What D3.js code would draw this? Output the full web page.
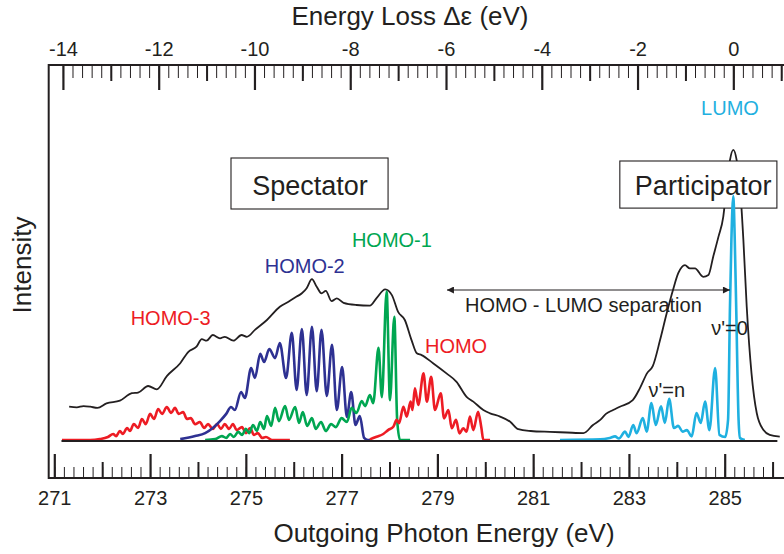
<!DOCTYPE html>
<html><head><meta charset="utf-8">
<script src="https://cdn.jsdelivr.net/npm/d3@7"></script>
<style>
body{margin:0;background:#fff}
svg{display:block}
text{font-family:"Liberation Sans",Arial,Helvetica,sans-serif}
</style>
</head><body>
<svg id="c" width="784" height="554"></svg>
<script>
// ---------- data (photon energy eV, intensity arb. units) ----------
const lossZero = 285.18; // energy of the LUMO (0 eV loss)

const total = [[271.31,11.1],[271.47,10.9],[271.61,11.3],[271.75,11.1],[271.90,10.7],[272.09,12.2],[272.37,13.1],[272.62,15.6],[272.75,15.8],[272.96,18.0],[273.14,16.9],[273.35,21.3],[273.63,25.6],[273.80,29.4],[273.97,31.1],[274.08,33.6],[274.18,33.1],[274.31,35.0],[274.46,33.9],[274.56,34.4],[274.74,33.1],[274.91,35.0],[275.02,34.4],[275.19,36.7],[275.44,40.0],[275.71,44.4],[275.89,46.1],[276.06,47.8],[276.17,48.9],[276.27,50.6],[276.38,53.6],[276.48,51.1],[276.58,48.9],[276.67,49.7],[276.79,46.3],[276.90,47.2],[277.04,45.7],[277.31,45.0],[277.59,44.8],[277.73,47.3],[277.91,50.2],[278.05,48.3],[278.18,42.7],[278.32,40.0],[278.46,33.3],[278.57,28.9],[278.67,28.3],[278.91,25.6],[279.19,22.2],[279.40,19.4],[279.61,14.4],[279.75,12.8],[279.96,10.0],[280.10,8.9],[280.31,7.8],[280.52,6.1],[280.69,3.6],[280.95,3.0],[281.35,2.7],[281.70,2.5],[282.05,2.3],[282.25,5.0],[282.40,6.7],[282.52,8.7],[282.67,10.0],[282.81,11.1],[283.08,13.3],[283.23,17.3],[283.38,22.3],[283.50,24.7],[283.65,33.3],[283.79,42.3],[283.92,50.0],[284.03,55.6],[284.17,58.3],[284.27,57.2],[284.38,57.2],[284.55,54.4],[284.66,55.0],[284.76,61.1],[284.87,67.8],[284.97,74.4],[285.04,84.4],[285.11,93.3],[285.18,96.7],[285.25,93.3],[285.32,84.4],[285.39,66.7],[285.46,44.4],[285.56,22.2],[285.67,8.9],[285.81,3.3],[285.94,1.7],[286.15,1.1]];

const homo3 = [[271.16,0],[271.75,0],[271.95,0.3],[272.12,1.0],[272.23,2.0],[272.29,1.3],[272.37,3.0],[272.43,2.0],[272.52,4.0],[272.58,3.0],[272.66,5.3],[272.75,4.0],[272.83,7.0],[272.91,5.3],[273.00,8.7],[273.08,7.0],[273.17,10.3],[273.25,8.7],[273.35,11.0],[273.44,9.0],[273.52,10.7],[273.60,8.7],[273.69,9.3],[273.77,7.0],[273.85,7.3],[273.94,5.3],[274.04,6.0],[274.13,4.0],[274.21,5.3],[274.31,3.7],[274.40,5.3],[274.48,3.7],[274.56,5.3],[274.65,3.7],[274.73,5.3],[274.81,3.3],[274.92,4.3],[275.00,2.3],[275.09,4.0],[275.17,1.7],[275.25,2.3],[275.34,0.7],[275.42,1.0],[275.55,0],[275.92,0]];

const homo2 = [[273.63,0.3],[273.94,1.3],[274.15,2.3],[274.31,4.0],[274.46,6.3],[274.59,8.7],[274.69,11.0],[274.77,10.0],[274.90,16.0],[274.98,14.0],[275.11,24.0],[275.19,20.7],[275.30,28.7],[275.38,26.0],[275.49,30.3],[275.61,27.3],[275.71,32.3],[275.84,20.7],[275.96,35.7],[276.06,16.7],[276.17,37.0],[276.27,15.0],[276.38,37.7],[276.48,16.3],[276.58,36.7],[276.69,14.7],[276.80,31.7],[276.90,10.0],[277.01,24.3],[277.11,7.7],[277.20,16.0],[277.29,5.0],[277.38,8.0],[277.47,0.7],[277.55,0],[277.63,0]];

const homo1 = [[274.15,0],[274.36,0.3],[274.50,1.3],[274.59,0.7],[274.67,2.0],[274.75,1.0],[274.84,2.7],[274.92,1.7],[275.00,3.7],[275.07,2.3],[275.15,5.0],[275.23,3.0],[275.30,6.0],[275.38,3.7],[275.44,8.0],[275.53,4.7],[275.61,10.7],[275.69,6.3],[275.82,11.3],[275.90,6.7],[276.03,11.0],[276.11,5.7],[276.19,9.3],[276.28,4.7],[276.38,7.3],[276.46,3.7],[276.57,6.0],[276.67,3.0],[276.78,5.3],[276.88,4.3],[277.00,7.3],[277.11,6.0],[277.21,10.7],[277.31,9.0],[277.42,13.0],[277.49,11.3],[277.59,15.0],[277.66,12.3],[277.77,30.7],[277.84,14.3],[277.94,49.5],[278.01,13.3],[278.10,41.1],[278.16,6.7],[278.22,0],[278.43,0]];

const homo = [[277.59,0.2],[277.73,1.1],[277.87,2.0],[277.97,3.3],[278.08,4.4],[278.15,6.7],[278.20,5.6],[278.29,11.1],[278.36,7.8],[278.44,12.8],[278.48,10.0],[278.53,17.2],[278.60,11.7],[278.71,22.2],[278.78,12.8],[278.87,21.1],[278.95,10.0],[279.07,15.6],[279.14,7.2],[279.23,10.0],[279.30,3.9],[279.39,6.7],[279.46,2.2],[279.54,3.9],[279.61,2.8],[279.68,7.8],[279.75,3.3],[279.85,9.4],[279.92,3.9],[279.96,0],[280.10,0]];

const lumo = [[281.56,0],[282.40,0.2],[282.60,0.7],[282.71,1.2],[282.79,0.5],[282.92,2.8],[282.99,1.0],[283.09,5.0],[283.16,2.3],[283.29,7.3],[283.37,2.8],[283.47,12.3],[283.56,5.0],[283.67,11.2],[283.75,5.7],[283.84,13.7],[283.94,4.0],[284.03,4.7],[284.12,2.8],[284.21,3.3],[284.31,1.2],[284.41,9.0],[284.50,5.7],[284.59,12.8],[284.68,3.3],[284.80,24.0],[284.89,1.7],[285.01,1.0],[285.07,6.7],[285.11,44.3],[285.14,66.7],[285.18,81.3],[285.21,66.7],[285.24,44.3],[285.29,6.7],[285.32,0.7],[285.42,0]];

const bottomLabelTicks = [271,273,275,277,279,281,283,285];
const bottomMidTicks = [272,274,276,278,280,282,284,286];
const topLabelTicks = [-14,-12,-10,-8,-6,-4,-2,0];
const topMidTicks = [-13,-11,-9,-7,-5,-3,-1,1];

const curveLabels = [
  {text:"LUMO",   e:285.11, i:108.3, color:"#1fb0e0"},
  {text:"HOMO-1", e:278.05, i:64.3,  color:"#00a651"},
  {text:"HOMO-2", e:276.23, i:55.7,  color:"#2e3192"},
  {text:"HOMO-3", e:273.43, i:38.3,  color:"#ed1c24"},
  {text:"HOMO",   e:279.39, i:29.0,  color:"#ed1c24"},
  {text:"\u03bd'=0", e:285.10, i:35.0, color:"#231f20"},
  {text:"\u03bd'=n", e:283.79, i:14.3, color:"#231f20"}
];
const boxes = [
  {text:"Spectator",    e0:274.69, e1:277.97, i0:77.0, i1:94.0, te:276.34, ti:81.7},
  {text:"Participator", e0:282.81, e1:286.09, i0:77.3, i1:93.0, te:284.55, ti:81.7}
];
const separation = {text:"HOMO - LUMO separation", e0:279.20, e1:285.11, i:50.0, te:282.05, ti:42.7};

// ---------- scales ----------
const svg = d3.select("#c");
const ink = "#231f20";
const x = d3.scaleLinear().domain([271,285]).range([54.3,724.7]);
const xl = d3.scaleLinear().domain([271-lossZero,285-lossZero]).range([54.3,724.7]);
const y = d3.scaleLinear().domain([0,100]).range([440,140]);
const frameL = 48.7, frameR = 784, topY = 65, botY = 478;

// ---------- axes ----------
function ticks(axisFn, scale, vals, size, width, yPos){
  const g = svg.append("g").attr("transform",`translate(0,${yPos})`)
    .call(axisFn(scale).tickValues(vals).tickSize(size).tickFormat(""));
  g.select(".domain").remove();
  g.selectAll("line").attr("stroke",ink).attr("stroke-width",width);
}
const bottomMinor = d3.range(0,76).map(k=>271+k*0.2);
const topMinor = d3.range(0,76).map(k=>-14+k*0.2);
ticks(d3.axisTop, x, bottomMinor, 11, 1, botY);
ticks(d3.axisTop, x, bottomMidTicks, 16, 2, botY);
ticks(d3.axisTop, x, bottomLabelTicks, 24, 2.2, botY);
ticks(d3.axisBottom, xl, topMinor, 13, 1, topY);
ticks(d3.axisBottom, xl, topMidTicks, 16, 2, topY);
ticks(d3.axisBottom, xl, topLabelTicks, 25, 2.2, topY);

function labels(axisFn, scale, vals, pad, yPos){
  const g = svg.append("g").attr("transform",`translate(0,${yPos})`)
    .call(axisFn(scale).tickValues(vals).tickSize(0).tickPadding(pad).tickFormat(d=>String(d)));
  g.select(".domain").remove();
  g.attr("font-family",null).attr("font-size",null);
  g.selectAll("text").attr("font-size",20).attr("fill",ink);
}
labels(d3.axisBottom, x, bottomLabelTicks, 12.8, botY);
labels(d3.axisTop, xl, topLabelTicks, 9, topY);

// frame lines
svg.append("line").attr("x1",frameL).attr("x2",frameR).attr("y1",topY).attr("y2",topY).attr("stroke",ink).attr("stroke-width",2);
svg.append("line").attr("x1",frameL).attr("x2",frameR).attr("y1",botY).attr("y2",botY).attr("stroke",ink).attr("stroke-width",2);
svg.append("line").attr("x1",frameL).attr("x2",frameL).attr("y1",topY-1).attr("y2",botY+1).attr("stroke",ink).attr("stroke-width",2);

// axis titles
svg.append("text").attr("x",410).attr("y",25).attr("text-anchor","middle").attr("font-size",26).attr("fill",ink).text("Energy Loss \u0394\u03b5 (eV)");
svg.append("text").attr("x",444).attr("y",542).attr("text-anchor","middle").attr("font-size",26).attr("fill",ink).text("Outgoing Photon Energy (eV)");
svg.append("text").attr("transform","translate(31,265) rotate(-90)").attr("text-anchor","middle").attr("font-size",26).attr("fill",ink).text("Intensity");

// ---------- curves ----------
const line = d3.line().x(d=>x(d[0])).y(d=>y(d[1])).curve(d3.curveMonotoneX);
svg.append("path").datum(total).attr("d",line).attr("fill","none").attr("stroke",ink).attr("stroke-width",1.8).attr("stroke-linejoin","round");

// boxes
boxes.forEach(b=>{
  svg.append("rect").attr("x",x(b.e0)).attr("y",y(b.i1)).attr("width",x(b.e1)-x(b.e0)).attr("height",y(b.i0)-y(b.i1))
    .attr("fill","#fff").attr("stroke",ink).attr("stroke-width",1.1);
  svg.append("text").attr("x",x(b.te)).attr("y",y(b.ti)).attr("text-anchor","middle").attr("font-size",27).attr("fill",ink).text(b.text);
});

const series = [
  {d:homo3, c:"#ed1c24"},
  {d:homo2, c:"#2e3192"},
  {d:homo1, c:"#00a651"},
  {d:homo,  c:"#ed1c24"},
  {d:lumo,  c:"#1fb0e0"}
];
series.forEach(s=>{
  svg.append("path").datum(s.d).attr("d",line).attr("fill","none").attr("stroke",s.c).attr("stroke-width",2.6).attr("stroke-linejoin","round");
});
// baseline on top
svg.append("path").datum([[271.15,0],[286.1,0]]).attr("d",line).attr("fill","none").attr("stroke",ink).attr("stroke-width",2.2).attr("transform","translate(0,1)");

// labels
curveLabels.forEach(l=>{
  svg.append("text").attr("x",x(l.e)).attr("y",y(l.i)).attr("text-anchor","middle").attr("font-size",20).attr("fill",l.color).text(l.text);
});

// separation arrow
const defs = svg.append("defs");
defs.append("marker").attr("id","ah").attr("viewBox","0 0 10 10").attr("refX",10).attr("refY",5)
  .attr("markerWidth",11).attr("markerHeight",7).attr("markerUnits","userSpaceOnUse").attr("orient","auto-start-reverse")
  .append("path").attr("d","M0,0 L10,5 L0,10 Z").attr("fill",ink);
svg.append("line").attr("x1",x(separation.e0)).attr("x2",x(separation.e1)).attr("y1",y(separation.i)).attr("y2",y(separation.i))
  .attr("stroke",ink).attr("stroke-width",1.2).attr("marker-start","url(#ah)").attr("marker-end","url(#ah)");
svg.append("text").attr("x",x(separation.te)).attr("y",y(separation.ti)).attr("text-anchor","middle").attr("font-size",20).attr("fill",ink).text(separation.text);
</script>
</body></html>
